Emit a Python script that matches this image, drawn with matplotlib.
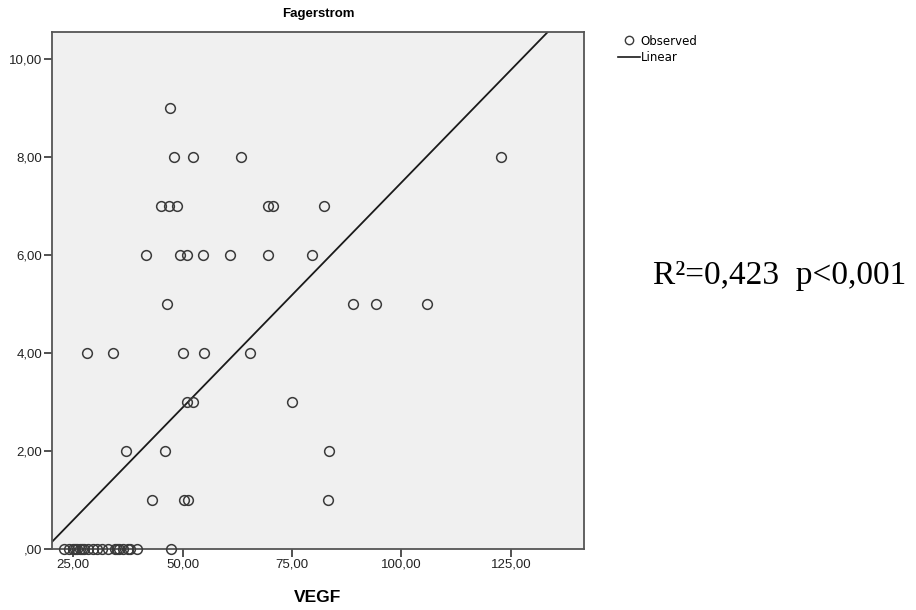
import matplotlib.pyplot as plt
import numpy as np
from matplotlib.ticker import FuncFormatter
from matplotlib.lines import Line2D

# observed points (VEGF, Fagerstrom)
vegf = [47.1,
        48.0, 52.4, 63.3, 122.7,
        45.1, 47.0, 48.8, 69.5, 70.7, 82.4,
        41.7, 49.4, 51.0, 54.7, 60.8, 69.5, 79.5,
        46.5, 88.9, 94.2, 105.8,
        28.2, 34.1, 50.2, 54.9, 65.3,
        51.0, 52.3, 74.9,
        37.1, 46.0, 83.4,
        43.1, 50.4, 51.2, 83.3,
        23.0, 24.0, 25.0, 25.5, 26.0, 26.5, 27.0, 27.5, 28.5, 29.5,
        30.5, 31.5, 33.0, 34.5, 35.0, 35.5, 36.5, 37.5, 38.0, 39.5, 47.4]
fager = [9,
         8, 8, 8, 8,
         7, 7, 7, 7, 7, 7,
         6, 6, 6, 6, 6, 6, 6,
         5, 5, 5, 5,
         4, 4, 4, 4, 4,
         3, 3, 3,
         2, 2, 2,
         1, 1, 1, 1,
         0, 0, 0, 0, 0, 0, 0, 0, 0, 0,
         0, 0, 0, 0, 0, 0, 0, 0, 0, 0, 0]

# fitted line as drawn in the reference
intercept = -1.71
slope = 0.0919

x_ticks = [25, 50, 75, 100, 125]
y_ticks = [0, 2, 4, 6, 8, 10]


def comma_fmt(v, pos=None):
    s = f"{v:.2f}".replace('.', ',')
    if s.startswith('0,'):
        s = s[1:]
    return s


fig = plt.figure(figsize=(9.16, 6.10), dpi=100)
ax = fig.add_axes([0.0568, 0.10, 0.5808, 0.8475])
ax.set_facecolor('#f0f0f0')

xmin, xmax = 20.2, 141.7
xs = np.array([xmin, xmax])
ax.plot(xs, intercept + slope * xs, color='#1a1a1a', lw=1.3)

ax.plot(vegf, fager, 'o', ms=7, mfc='none', mec='#3a3a3a', mew=1.1,
        clip_on=False, zorder=3)

ax.set_xlim(xmin, xmax)
ax.set_ylim(0, 10.55)
ax.set_xticks(x_ticks)
ax.set_yticks(y_ticks)
ax.xaxis.set_major_formatter(FuncFormatter(comma_fmt))
ax.yaxis.set_major_formatter(FuncFormatter(comma_fmt))

for sp in ax.spines.values():
    sp.set_color('#555555')
    sp.set_linewidth(1.3)
ax.tick_params(direction='out', length=6, width=1.2, color='#333333',
               labelsize=9.5, labelcolor='#222222', pad=1)
for lab in ax.get_xticklabels() + ax.get_yticklabels():
    lab.set_family('Liberation Sans')

ax.set_xlabel('VEGF', fontsize=12.5, fontweight='bold', family='Liberation Sans',
              labelpad=14)
ax.set_title('Fagerstrom', fontsize=9.5, fontweight='bold', family='Liberation Sans',
             pad=11)

handles = [Line2D([], [], ls='none', marker='o', ms=6, mfc='none', mec='#3a3a3a', mew=1.0),
           Line2D([], [], color='#1a1a1a', lw=1.2)]
fig.legend(handles, ['Observed', 'Linear'], loc='upper left',
           bbox_to_anchor=(0.668, 0.953), frameon=False, handlelength=1.85,
           handletextpad=0.1, labelspacing=0.3, borderpad=0,
           prop={'family': 'DejaVu Sans', 'size': 8.5})

fig.text(0.713, 0.534, 'R\u00b2=0,423  p<0,001', fontsize=24,
         family='Liberation Serif', va='baseline', ha='left')

fig.savefig('out.png', dpi=100)
